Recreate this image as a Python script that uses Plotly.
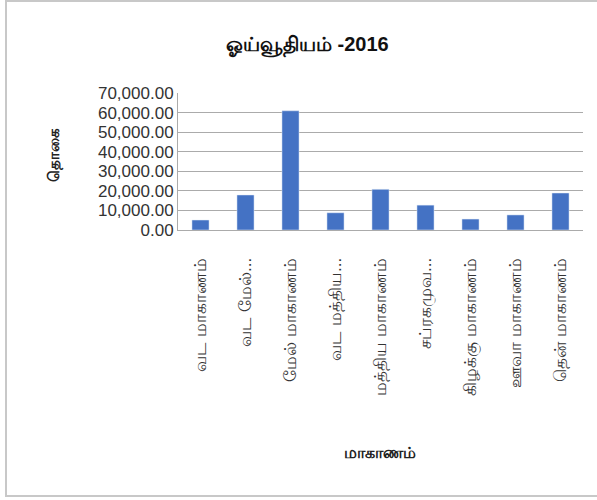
import plotly.graph_objects as go

categories = ["வட மாகாணம்", "வட மேல்...", "மேல் மாகாணம்", "வட மத்திய...", "மத்திய மாகாணம்",
              "சப்ரகமுவ...", "கிழக்கு மாகாணம்", "ஊவா மாகாணம்", "தென் மாகாணம்"]
values = [5100, 17900, 60900, 8800, 20800, 12700, 5600, 7700, 18900]
y_ticks = [0, 10000, 20000, 30000, 40000, 50000, 60000, 70000]
title_text = "ஓய்வூதியம் -2016"
y_title = "தொகை"
x_title = "மாகாணம்"

W, H = 597, 500
L, R, T, B = 178, 583, 93, 230
pw, ph = R - L, B - T

def px(x):
    return (x - L) / pw

def py(y):
    return (B - y) / ph

fig = go.Figure(go.Bar(x=categories, y=values, marker_color="#4472C4", width=0.38))

fig.update_layout(
    width=W, height=H,
    margin=dict(l=L, r=W - R, t=T, b=H - B, autoexpand=False),
    paper_bgcolor="white", plot_bgcolor="white",
    showlegend=False,
    font=dict(family="Liberation Sans, Arial, sans-serif", color="#333333"),
)
fig.update_yaxes(
    range=[0, 70000], tickvals=y_ticks, tickformat=",.2f",
    tickfont=dict(size=17, color="#333333"),
    showgrid=True, gridcolor="#ababab", gridwidth=1,
    showline=True, linecolor="#ababab", linewidth=1,
    ticks="", zeroline=False, automargin=False,
)
fig.update_xaxes(
    tickangle=-90, tickfont=dict(size=17, color="#333333"),
    showline=True, linecolor="#ababab", linewidth=1,
    ticks="", ticklabelstandoff=20, automargin=False,
)

fig.add_annotation(text="<b>" + title_text + "</b>", x=px(307), y=py(45), xref="paper", yref="paper",
                   showarrow=False, font=dict(size=20, color="#111111"),
                   xanchor="center", yanchor="middle")
fig.add_annotation(text="<b>" + y_title + "</b>", x=px(54), y=py(155), xref="paper", yref="paper",
                   showarrow=False, textangle=-90, font=dict(size=15, color="#222222"),
                   xanchor="center", yanchor="middle")
fig.add_annotation(text="<b>" + x_title + "</b>", x=px(380), y=py(452), xref="paper", yref="paper",
                   showarrow=False, font=dict(size=16, color="#222222"),
                   xanchor="center", yanchor="middle")

fig.add_shape(type="rect", xref="paper", yref="paper",
              x0=px(6), x1=px(650), y0=py(496), y1=py(1),
              line=dict(color="#c8c8c8", width=2), fillcolor="rgba(0,0,0,0)", layer="below")

fig.write_html("out.html", config={"displayModeBar": False},
               post_script="document.body.style.margin='0';document.body.style.overflow='hidden';")
